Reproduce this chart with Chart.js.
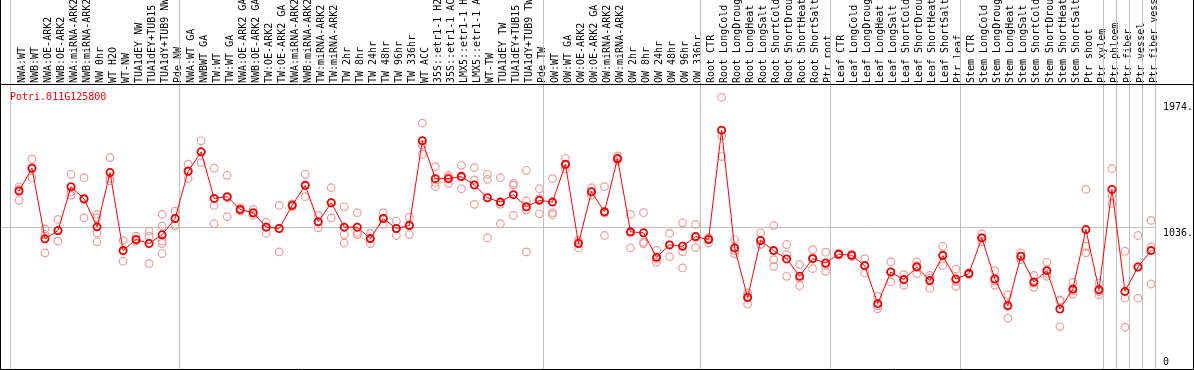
<!DOCTYPE html>
<html>
<head>
<meta charset="utf-8">
<script src="https://cdn.jsdelivr.net/npm/chart.js@4/dist/chart.umd.min.js"></script>
<style>
  body { margin: 0; background: #fff; }
  #wrap { width: 1194px; height: 370px; }
</style>
</head>
<body>
<div id="wrap"><canvas id="c"></canvas></div>
<script>
const geneName = 'Potri.011G125800';

const categories = [
  'NWA:WT', 'NWB:WT', 'NWA:OE-ARK2', 'NWB:OE-ARK2', 'NWA:miRNA-ARK2', 'NWB:miRNA-ARK2',
  'NW 0hr', 'WT H2O', 'WT-NW', 'TUA1dEY NW', 'TUA1dEY+TUB15', 'TUA1dY+TUB9 NW', 'Pde NW',
  'NWA:WT GA', 'NWBWT GA', 'TW:WT', 'TW:WT GA', 'NWA:OE-ARK2 GA', 'NWB:OE-ARK2 GA',
  'TW:OE-ARK2', 'TW:OE-ARK2 GA', 'NWA:miRNA-ARK2', 'NWB:miRNA-ARK2', 'TW:miRNA-ARK2',
  'TW:miRNA-ARK2', 'TW 2hr', 'TW 8hr', 'TW 24hr', 'TW 48hr', 'TW 96hr', 'TW 336hr',
  'WT ACC', '35S::etr1-1 H2', '35S::etr1-1 AC', 'LMX5::etr1-1 H', 'LMX5::etr1-1 A',
  'WT-TW', 'TUA1dEY TW', 'TUA1dEY+TUB15', 'TUA1dY+TUB9 TW', 'Pde TW',
  'OW:WT', 'OW:WT GA', 'OW:OE-ARK2', 'OW:OE-ARK2 GA', 'OW:miRNA-ARK2', 'OW:miRNA-ARK2',
  'OW 2hr', 'OW 8hr', 'OW 24hr', 'OW 48hr', 'OW 96hr', 'OW 336hr',
  'Root CTR', 'Root LongCold', 'Root LongDroug', 'Root LongHeat', 'Root LongSalt',
  'Root ShortCold', 'Root ShortDrou', 'Root ShortHeat', 'Root ShortSalt', 'Ptr root',
  'Leaf CTR', 'Leaf LongCold', 'Leaf LongDroug', 'Leaf LongHeat', 'Leaf LongSalt',
  'Leaf ShortCold', 'Leaf ShortDrou', 'Leaf ShortHeat', 'Leaf ShortSalt', 'Ptr leaf',
  'Stem CTR', 'Stem LongCold', 'Stem LongDroug', 'Stem LongHeat', 'Stem LongSalt',
  'Stem ShortCold', 'Stem ShortDrou', 'Stem ShortHeat', 'Stem ShortSalt', 'Ptr shoot',
  'Ptr xylem', 'Ptr phloem', 'Ptr fiber', 'Ptr vessel', 'Ptr fiber vess'
];

// group boundaries (category index where a new group starts)
const groupBreaks = [0, 13, 41, 53, 63, 73, 84, 85, 86, 87, 88];

const meanValues = [
  1306, 1475, 951, 1013, 1338, 1249, 1040, 1443, 864, 946, 916, 981, 1102,
  1453, 1597, 1251, 1264, 1169, 1145, 1038, 1028, 1200, 1348, 1078, 1219, 1038,
  1038, 953, 1102, 1028, 1050, 1679, 1398, 1398, 1413, 1351, 1256, 1224, 1279,
  1189, 1237, 1224, 1505, 916, 1301, 1152, 1547, 1003, 996, 814, 906, 896, 968,
  946, 1758, 884, 516, 939, 864, 802, 673, 804, 772, 837,
  829, 752, 470, 705, 648, 742, 641, 827, 653, 693,
  958, 653, 454, 822, 631, 715, 430, 578, 1020, 573,
  1318, 561, 742, 864
];

const replicateValues = [
  [1336, 1237, 1318], [1542, 1405, 1478], [1025, 983, 847], [1095, 934, 1010],
  [1430, 1299, 1274], [1405, 1107, 1244], [1132, 1107, 996, 929], [1554, 1398, 1381],
  [938, 785, 864], [971, 934, 940], [1008, 971, 767], [1132, 1045, 934, 916, 842],
  [1157, 1050, 1100],
  [1505, 1398, 1455], [1679, 1517, 1595], [1475, 1199, 1063], [1423, 1115, 1254],
  [1182, 1157, 1169], [1169, 1125, 1140], [1075, 991, 1040], [1199, 854, 1028],
  [1189, 1210, 1200], [1430, 1264, 1350], [1125, 1033, 1078], [1331, 1107, 1219],
  [1189, 983, 921], [1145, 983, 1000], [991, 916, 953], [1145, 1058, 1102],
  [1083, 976, 1028], [1112, 983, 1055], [1810, 1579, 1650], [1487, 1338, 1370],
  [1423, 1363, 1410], [1497, 1323, 1420], [1480, 1388, 1207], [1430, 1393, 958],
  [1405, 1207, 1063], [1363, 1125, 1350], [1460, 1232, 1165, 854], [1323, 1137, 1250],
  [1398, 1130, 1145], [1549, 1468, 1500], [884, 940, 925], [1331, 1274, 1300],
  [1338, 976, 1142], [1567, 1530, 1545], [1132, 884, 993], [1145, 926, 916],
  [867, 777, 800], [991, 819, 906], [1070, 857, 735], [1058, 886, 960],
  [958, 921, 958], [2001, 1716, 1562], [946, 842, 864], [549, 467, 530],
  [996, 909, 912], [1050, 797, 747], [909, 834, 673], [760, 603, 656],
  [871, 730, 811], [852, 710, 754], [837, 845, 830],
  [829, 820, 838], [804, 698, 752], [524, 432, 454], [780, 631, 705],
  [685, 606, 652], [780, 693, 752], [680, 583, 660], [896, 752, 833],
  [727, 598, 634], [700, 686, 693],
  [988, 958, 930], [715, 606, 638], [536, 362, 464], [847, 797, 822],
  [680, 591, 622], [777, 673, 695], [492, 300, 498], [628, 541, 565],
  [1318, 896, 847], [623, 536, 560],
  [1472, 1269, 1214], [859, 511, 295], [976, 511, 742], [1088, 891, 616]
];

const yTickValues = [1974, 1036, 0];
const yTickLabels = ['1974.', '1036.', '0'];
const yGridValues = [1036];

const FONT = '"DejaVu Sans Mono", "Liberation Mono", monospace';
const PT = 0.69; // point position inside a category cell

const meanPoints = meanValues.map((v, i) => ({ x: i + PT, y: v }));
const repPoints = [];
replicateValues.forEach((arr, i) => arr.forEach(v => repPoints.push({ x: i + PT, y: v })));

const framePlugin = {
  id: 'frame',
  beforeDatasetsDraw(chart) {
    const ctx = chart.ctx;
    const xs = chart.scales.x;
    const bottom = chart.chartArea.bottom;
    ctx.save();
    ctx.strokeStyle = '#c0c0c0';
    ctx.lineWidth = 1;
    groupBreaks.forEach(b => {
      const px = Math.round(xs.getPixelForValue(b)) + 0.5;
      ctx.beginPath();
      ctx.moveTo(px, 0);
      ctx.lineTo(px, bottom);
      ctx.stroke();
    });
    ctx.restore();
  },
  afterDraw(chart) {
    const ctx = chart.ctx;
    const ys = chart.scales.y;
    const area = chart.chartArea;
    const W = chart.width;
    ctx.save();
    ctx.strokeStyle = '#000';
    ctx.lineWidth = 1;
    ctx.beginPath();
    ctx.moveTo(0, Math.round(area.top) - 0.5);
    ctx.lineTo(W, Math.round(area.top) - 0.5);
    ctx.moveTo(0, Math.round(area.bottom) + 0.5);
    ctx.lineTo(W, Math.round(area.bottom) + 0.5);
    ctx.moveTo(0.5, 0);
    ctx.lineTo(0.5, chart.height);
    ctx.moveTo(W - 0.5, 0);
    ctx.lineTo(W - 0.5, chart.height);
    ctx.stroke();

    ctx.font = '10px ' + FONT;
    ctx.fillStyle = '#ff0000';
    ctx.textAlign = 'left';
    ctx.textBaseline = 'top';
    ctx.fillText(geneName, 10, area.top + 7);

    ctx.fillStyle = '#000';
    yTickValues.forEach((v, k) => {
      const py = ys.getPixelForValue(v);
      if (v === 0) {
        ctx.textBaseline = 'bottom';
        ctx.fillText(yTickLabels[k], area.right + 8, py);
      } else {
        ctx.textBaseline = 'top';
        ctx.fillText(yTickLabels[k], area.right + 8, py + 1);
      }
    });
    ctx.restore();
  }
};

new Chart(document.getElementById('c'), {
  data: {
    datasets: [
      {
        type: 'line',
        label: 'mean',
        data: meanPoints,
        borderColor: '#ff0000',
        borderWidth: 1,
        pointRadius: 3.6,
        pointBorderColor: '#ee0000',
        pointBackgroundColor: 'rgba(0,0,0,0)',
        pointBorderWidth: 1.8,
        tension: 0,
        order: 1
      },
      {
        type: 'scatter',
        label: 'replicates',
        data: repPoints,
        showLine: false,
        pointRadius: 3.8,
        pointBorderColor: '#f09a9a',
        pointBackgroundColor: 'rgba(0,0,0,0)',
        pointBorderWidth: 1.2,
        order: 2
      }
    ]
  },
  plugins: [framePlugin],
  options: {
    responsive: true,
    maintainAspectRatio: false,
    animation: false,
    layout: { autoPadding: false, padding: { left: 1, right: 0, top: 0, bottom: 1 } },
    plugins: { legend: { display: false }, tooltip: { enabled: false } },
    scales: {
      x: {
        type: 'linear',
        position: 'top',
        min: -9 / 13.01,
        max: 88,
        grid: { display: false, drawTicks: false },
        border: { display: false },
        afterBuildTicks: (scale) => {
          scale.ticks = categories.map((c, i) => ({ value: i + 0.77 }));
        },
        afterFit: (scale) => {
          scale.height = 85;
          scale.paddingLeft = 0;
          scale.paddingRight = 0;
        },
        ticks: {
          autoSkip: false,
          minRotation: 90,
          maxRotation: 90,
          padding: 2,
          labelOffset: 14,
          color: '#000',
          font: { family: FONT, size: 10 },
          callback: (v, i) => categories[i]
        }
      },
      y: {
        type: 'linear',
        position: 'right',
        min: -15,
        max: 2093,
        afterBuildTicks: (scale) => {
          scale.ticks = yGridValues.map(v => ({ value: v }));
        },
        afterFit: (scale) => {
          scale.width = 39;
          scale.paddingTop = 0;
          scale.paddingBottom = 0;
        },
        grid: { color: '#c0c0c0', drawTicks: false },
        border: { display: false },
        ticks: { display: false }
      }
    }
  }
});
</script>
</body>
</html>
